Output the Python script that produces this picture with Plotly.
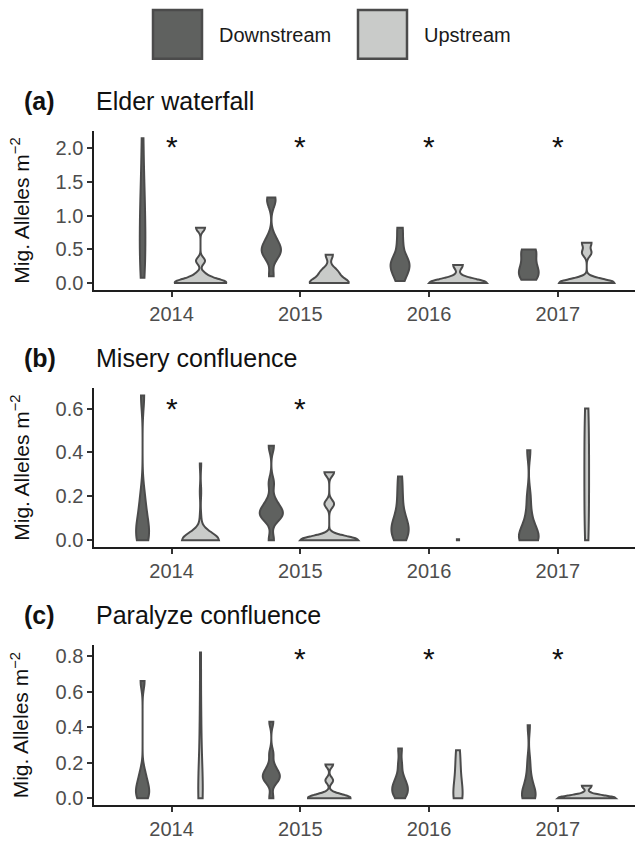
import numpy as np
import plotly.graph_objects as go

YEARS = ["2014", "2015", "2016", "2017"]
STREAMS = ["Downstream", "Upstream"]

# (a) Elder waterfall - migrant alleles per m2, one list per year (2014..2017)
elder_down = [
    [0.08, 0.25, 0.45, 0.65, 0.85, 1.05, 1.3, 1.6, 2.15],
    [0.1, 0.38, 0.44, 0.48, 0.52, 0.58, 0.68, 1.2, 1.27],
    [0.03, 0.15, 0.22, 0.27, 0.32, 0.4, 0.6, 0.82],
    [0.05, 0.1, 0.15, 0.2, 0.28, 0.4, 0.5, 0.5],
]
elder_up = [
    [0, 0, 0, 0, 0, 0.05, 0.12, 0.33, 0.82],
    [0, 0, 0, 0, 0, 0.1, 0.15, 0.2, 0.42],
    [0, 0, 0, 0, 0, 0, 0.27],
    [0, 0, 0, 0, 0, 0.02, 0.45, 0.6],
]

# (b) Misery confluence
misery_down = [
    [0, 0.01, 0.03, 0.07, 0.12, 0.2, 0.66],
    [0, 0.1, 0.11, 0.12, 0.13, 0.15, 0.18, 0.26, 0.43],
    [0, 0.02, 0.03, 0.05, 0.06, 0.08, 0.1, 0.16, 0.22, 0.29],
    [0, 0, 0, 0.01, 0.02, 0.04, 0.07, 0.12, 0.2, 0.41],
]
misery_up = [
    [0] * 27 + [0.1, 0.22, 0.35],
    [0, 0, 0, 0, 0, 0, 0.165, 0.31],
    [0, 0, 0, 0, 0],
    [0, 0.15, 0.3, 0.45, 0.6],
]

# (c) Paralyze confluence
paralyze_down = [
    [0, 0.02, 0.05, 0.08, 0.14, 0.66],
    [0, 0.09, 0.11, 0.12, 0.13, 0.15, 0.18, 0.25, 0.43],
    [0, 0.02, 0.04, 0.05, 0.07, 0.09, 0.12, 0.19, 0.28],
    [0, 0, 0, 0.01, 0.03, 0.05, 0.08, 0.13, 0.21, 0.41],
]
paralyze_up = [
    [0, 0, 0.02, 0.05, 0.15, 0.3, 0.5, 0.82],
    [0, 0, 0, 0, 0, 0.02, 0.1, 0.19],
    [0, 0, 0.03, 0.1, 0.18, 0.27],
    [0, 0, 0, 0, 0, 0, 0.07],
]

# years flagged with an asterisk (significant difference)
elder_sig = ["2014", "2015", "2016", "2017"]
misery_sig = ["2014", "2015"]
paralyze_sig = ["2015", "2016", "2017"]

PANELS = [
    ("(a)", "Elder waterfall", elder_down, elder_up, elder_sig),
    ("(b)", "Misery confluence", misery_down, misery_up, misery_sig),
    ("(c)", "Paralyze confluence", paralyze_down, paralyze_up, paralyze_sig),
]

FILL = {"Downstream": "#5f615f", "Upstream": "#c9cbc9"}
EDGE = "#4b4b4b"
FONT = "Liberation Sans, Arial, Helvetica, sans-serif"
W, H = 635, 843

# panel boxes in pixels (top, bottom), tick spacing, asterisk height
PANEL_PX = [(131.7, 291.7), (390.0, 550.0), (648.3, 809.3)]
DTICK = [0.5, 0.2, 0.2]
STAR_LEVEL = [0.9, 0.87, 0.92]
X_LEFT = 94.3


def nrd0(vals):
    """R's default bandwidth (bw.nrd0), as used by ggplot's geom_violin."""
    x = np.asarray(vals, dtype=float)
    hi = x.std(ddof=1) if len(x) > 1 else 0.0
    q75, q25 = np.percentile(x, [75, 25])
    lo = min(hi, (q75 - q25) / 1.34)
    if not lo:
        lo = hi or abs(x[0]) or 1.0
    return 0.9 * lo * len(x) ** -0.2


fig = go.Figure()
annotations = []

for i, (tag, title, down, up, sig) in enumerate(PANELS):
    n = "" if i == 0 else str(i + 1)
    top, bottom = PANEL_PX[i]
    for stream, groups in zip(STREAMS, (down, up)):
        for year, vals in zip(YEARS, groups):
            if min(vals) == max(vals):
                # all-zero group: ggplot draws a tiny blob at the value
                span = dict(spanmode="manual", span=[vals[0], vals[0] + 0.004])
            else:
                span = dict(spanmode="hard")
            fig.add_trace(go.Violin(
                x=[year] * len(vals),
                y=vals,
                xaxis="x" + n,
                yaxis="y" + n,
                name=stream,
                offsetgroup=stream,
                alignmentgroup=f"panel{i}",
                scalegroup=f"panel{i}",
                scalemode="width",
                bandwidth=nrd0(vals),
                points=False,
                fillcolor=FILL[stream],
                line=dict(color=EDGE, width=2),
                opacity=1,
                showlegend=False,
                hoveron="violins",
                **span,
            ))

    all_vals = [v for g in down + up for v in g]
    lo, hi = min(all_vals), max(all_vals)
    pad = 0.05 * (hi - lo)
    axis_style = dict(
        showline=True, linecolor="#1e1e1e", linewidth=1.8,
        ticks="outside", ticklen=5, tickwidth=1.5, tickcolor="#333333",
        tickfont=dict(family=FONT, size=20, color="#4d4d4d"),
        showgrid=False, zeroline=False, fixedrange=True,
    )
    fig.update_layout({
        "xaxis" + n: dict(
            domain=[X_LEFT / W, 1.0],
            anchor="y" + n,
            type="category",
            categoryorder="array",
            categoryarray=YEARS,
            range=[-0.6, 3.6],
            **axis_style,
        ),
        "yaxis" + n: dict(
            domain=[1 - bottom / H, 1 - top / H],
            anchor="x" + n,
            range=[lo - pad, hi + pad],
            dtick=DTICK[i],
            tick0=0,
            tickformat=".1f",
            **axis_style,
        ),
    })

    # panel tag and title
    title_y = 1 - (top - 30) / H
    annotations.append(dict(
        text=f"<b>{tag}</b>", x=22 / W, y=title_y, xref="paper", yref="paper",
        xanchor="left", yanchor="middle", showarrow=False,
        font=dict(family=FONT, size=25, color="#111111"),
    ))
    annotations.append(dict(
        text=title, x=X_LEFT / W, y=title_y, xref="paper", yref="paper",
        xanchor="left", yanchor="middle", showarrow=False,
        font=dict(family=FONT, size=25, color="#111111"),
    ))
    # y-axis title
    annotations.append(dict(
        text="Mig. Alleles m<sup>\u22122</sup>", textangle=-90,
        x=20 / W, y=1 - (top + bottom) / 2 / H, xref="paper", yref="paper",
        xanchor="center", yanchor="middle", showarrow=False,
        font=dict(family=FONT, size=21, color="#111111"),
    ))
    # significance asterisks (category axes take the category index)
    for year in sig:
        annotations.append(dict(
            text="*", x=YEARS.index(year), y=STAR_LEVEL[i],
            xref="x" + n, yref=f"y{n} domain",
            xanchor="center", yanchor="middle", showarrow=False,
            font=dict(family=FONT, size=30, color="#111111"),
        ))

# legend drawn as key boxes + labels
shapes = []
for stream, x0 in zip(STREAMS, (153, 358)):
    shapes.append(dict(
        type="rect", xref="paper", yref="paper",
        x0=x0 / W, x1=(x0 + 49) / W, y0=1 - 59 / H, y1=1 - 10 / H,
        fillcolor=FILL[stream], line=dict(color=EDGE, width=2.5),
    ))
    annotations.append(dict(
        text=stream, x=(x0 + 64) / W, y=1 - 35 / H, xref="paper", yref="paper",
        xanchor="left", yanchor="middle", showarrow=False,
        font=dict(family=FONT, size=20, color="#1a1a1a"),
    ))

fig.update_layout(
    width=W, height=H,
    margin=dict(l=0, r=0, t=0, b=0),
    paper_bgcolor="white", plot_bgcolor="white",
    violinmode="group", violingap=0.1, violingroupgap=0,
    showlegend=False,
    annotations=annotations,
    shapes=shapes,
)

# drop the page's default body margin so the figure fills the window exactly
fig.write_html(
    "out.html",
    config={"displayModeBar": False},
    post_script="document.body.style.margin = '0px';",
)
